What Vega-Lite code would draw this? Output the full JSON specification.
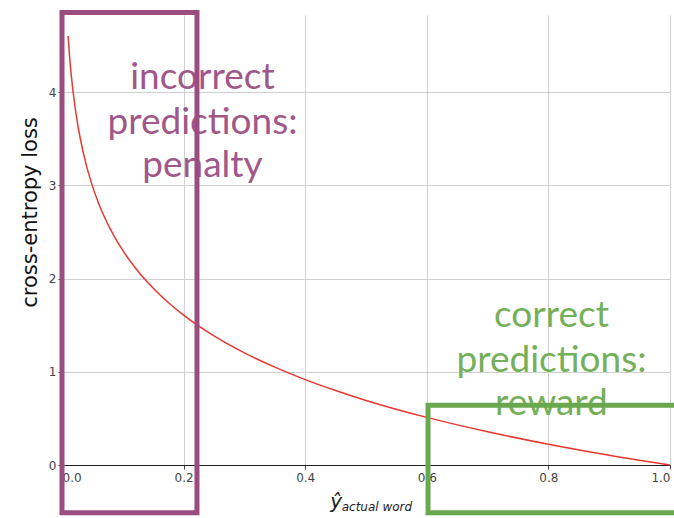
{
  "$schema": "https://vega.github.io/schema/vega-lite/v6.json",
  "width": 608,
  "height": 450,
  "autosize": {"type": "none"},
  "padding": {"left": 62, "top": 15, "right": 4, "bottom": 53},
  "background": "white",
  "config": {
    "view": {"stroke": null},
    "axis": {"labelFont": "DejaVu Sans", "titleFont": "DejaVu Sans", "gridColor": "#d0d0d0", "gridWidth": 1, "labelColor": "#444444", "tickColor": "#444444"}
  },
  "datasets": {
    "curve": [
      {"p": 0.01, "loss": 4.605}, {"p": 0.0125, "loss": 4.382}, {"p": 0.015, "loss": 4.2}, {"p": 0.02, "loss": 3.912},
      {"p": 0.025, "loss": 3.689}, {"p": 0.03, "loss": 3.507}, {"p": 0.04, "loss": 3.219}, {"p": 0.05, "loss": 2.996},
      {"p": 0.06, "loss": 2.813}, {"p": 0.07, "loss": 2.659}, {"p": 0.08, "loss": 2.526}, {"p": 0.09, "loss": 2.408},
      {"p": 0.1, "loss": 2.303}, {"p": 0.12, "loss": 2.12}, {"p": 0.14, "loss": 1.966}, {"p": 0.16, "loss": 1.833},
      {"p": 0.18, "loss": 1.715}, {"p": 0.2, "loss": 1.609}, {"p": 0.25, "loss": 1.386}, {"p": 0.3, "loss": 1.204},
      {"p": 0.35, "loss": 1.05}, {"p": 0.4, "loss": 0.916}, {"p": 0.45, "loss": 0.799}, {"p": 0.5, "loss": 0.693},
      {"p": 0.6, "loss": 0.511}, {"p": 0.7, "loss": 0.357}, {"p": 0.8, "loss": 0.223}, {"p": 0.9, "loss": 0.105},
      {"p": 1.0, "loss": 0}
    ],
    "boxes": [
      {"group": "incorrect", "x1": 0.0, "x2": 0.222, "y1": 4.856, "y2": -0.513},
      {"group": "correct", "x1": 0.602, "x2": 1.06, "y1": 0.642, "y2": -0.513}
    ],
    "notes": [
      {"group": "incorrect", "label": "incorrect", "x": 0.231, "y": 4.15},
      {"group": "incorrect", "label": "predictions:", "x": 0.231, "y": 3.67},
      {"group": "incorrect", "label": "penalty", "x": 0.231, "y": 3.21},
      {"group": "correct", "label": "correct", "x": 0.805, "y": 1.6},
      {"group": "correct", "label": "predictions:", "x": 0.805, "y": 1.12},
      {"group": "correct", "label": "reward", "x": 0.805, "y": 0.66}
    ],
    "xtitle": [
      {"label": "ŷ", "x": 0.441, "y": -0.46, "size": "big"},
      {"label": "actual word", "x": 0.46, "y": -0.49, "size": "small"}
    ]
  },
  "layer": [
    {
      "data": {"name": "curve"},
      "mark": {"type": "line", "color": "#e8372f", "strokeWidth": 1.5, "interpolate": "monotone"},
      "encoding": {
        "x": {"field": "p", "type": "quantitative", "scale": {"domain": [0, 1], "nice": false, "zero": false},
          "axis": {"values": [0, 0.2, 0.4, 0.6, 0.8, 1.0], "format": ".1f", "title": null, "labelFontSize": 12, "domainColor": "#222222", "tickSize": 4, "labelPadding": 3}},
        "y": {"field": "loss", "type": "quantitative", "scale": {"domain": [0, 4.83], "nice": false},
          "axis": {"values": [0, 1, 2, 3, 4], "format": "d", "title": "cross-entropy loss", "titleFontSize": 21, "titleFontWeight": "normal", "titleColor": "#111111", "titleY": 197, "labelFontSize": 12, "domain": false, "tickSize": 4, "titlePadding": 8}}
      }
    },
    {
      "data": {"name": "notes"},
      "mark": {"type": "text", "font": "Lato", "fontSize": 37, "align": "center", "baseline": "middle"},
      "encoding": {
        "x": {"field": "x", "type": "quantitative"},
        "y": {"field": "y", "type": "quantitative"},
        "text": {"field": "label"},
        "color": {"field": "group", "type": "nominal", "scale": {"domain": ["incorrect", "correct"], "range": ["#a0588a", "#74b05a"]}, "legend": null}
      }
    },
    {
      "data": {"name": "boxes"},
      "mark": {"type": "rect", "fill": null, "filled": false, "strokeWidth": 5},
      "encoding": {
        "x": {"field": "x1", "type": "quantitative"},
        "x2": {"field": "x2"},
        "y": {"field": "y1", "type": "quantitative"},
        "y2": {"field": "y2"},
        "stroke": {"field": "group", "type": "nominal", "scale": {"domain": ["incorrect", "correct"], "range": ["#9c4d80", "#6aa84f"]}, "legend": null}
      }
    },
    {
      "data": {"name": "xtitle"},
      "mark": {"type": "text", "font": "DejaVu Sans", "fontStyle": "italic", "align": "left", "baseline": "alphabetic", "color": "#222222"},
      "encoding": {
        "x": {"field": "x", "type": "quantitative"},
        "y": {"field": "y", "type": "quantitative"},
        "text": {"field": "label"},
        "size": {"field": "size", "type": "nominal", "scale": {"domain": ["big", "small"], "range": [20, 12]}, "legend": null}
      }
    }
  ]
}
